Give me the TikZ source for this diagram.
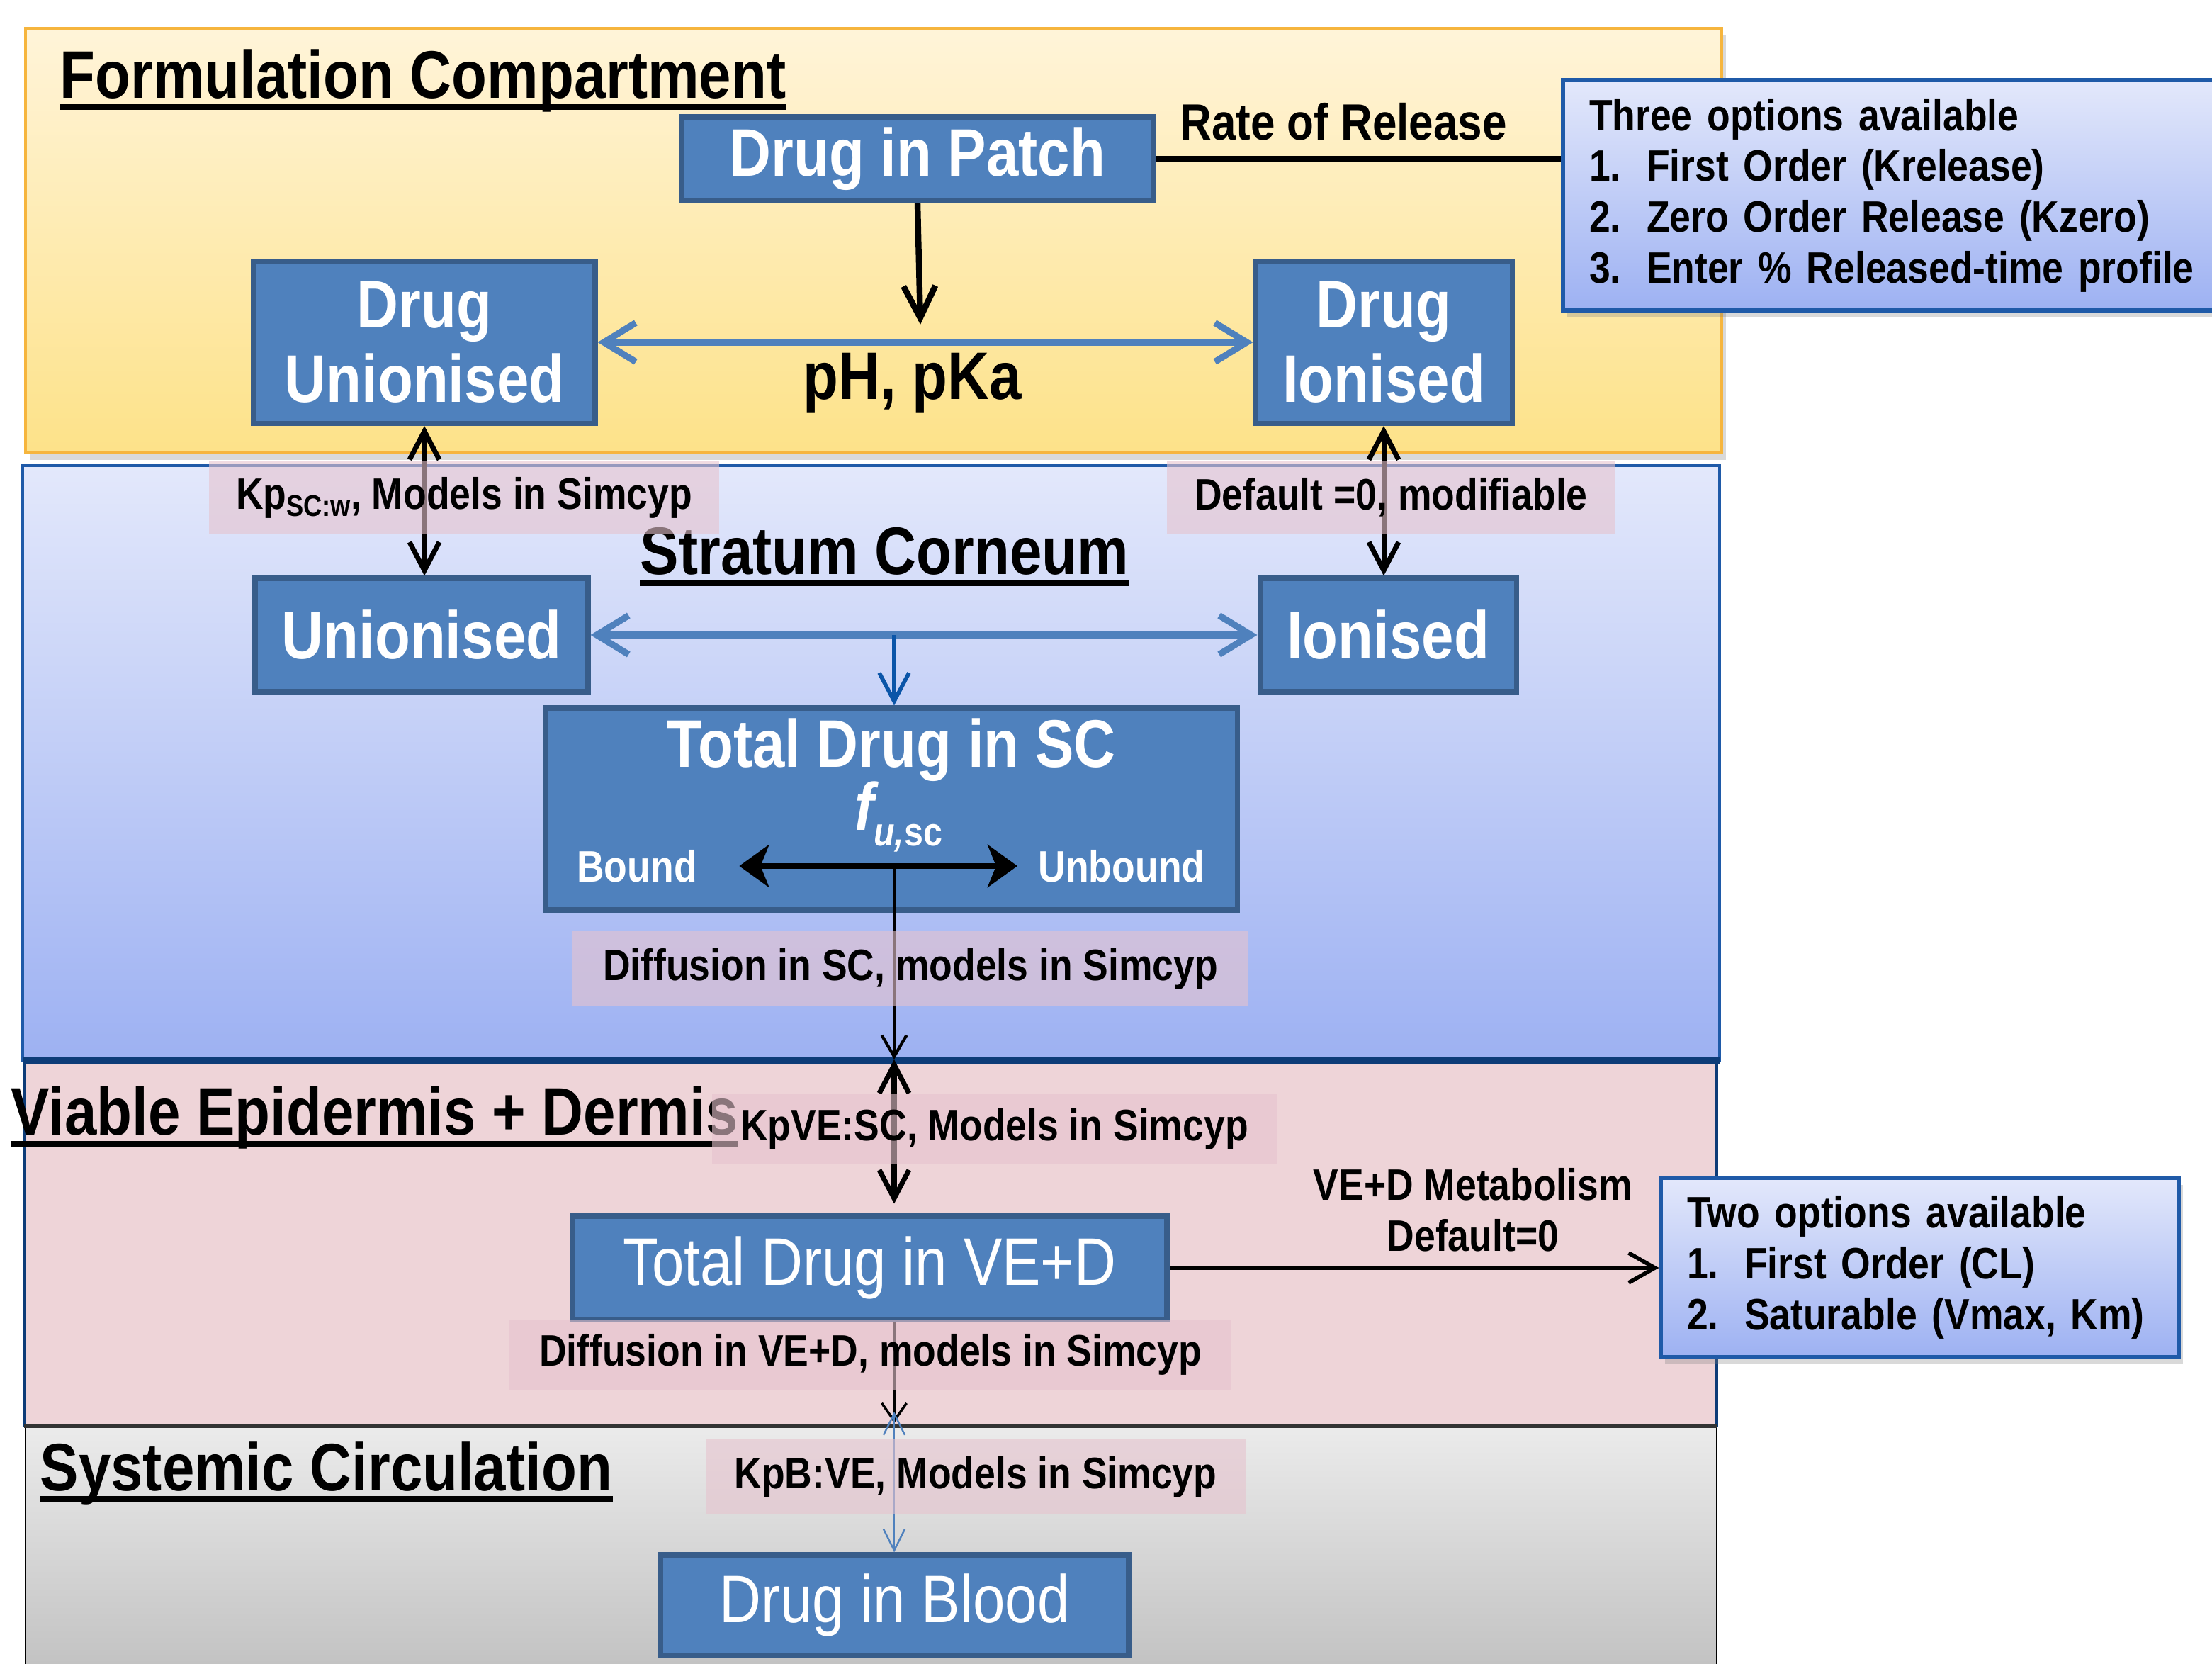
\documentclass[tikz,border=0pt]{standalone}
\usepackage{fontspec}
\setmainfont{Liberation Sans}[FakeStretch=0.86]
\usepackage{xcolor}
\usetikzlibrary{positioning}
\usetikzlibrary{arrows.meta}
\usetikzlibrary{shadows}

\definecolor{nodeblue}{HTML}{4F81BD}
\definecolor{nodeedge}{HTML}{385D8A}
\definecolor{fctop}{HTML}{FFF4D9}
\definecolor{fcbot}{HTML}{FDE289}
\definecolor{fcedge}{HTML}{F6B53D}
\definecolor{sctop}{HTML}{E3E8FB}
\definecolor{scbot}{HTML}{9DB1F2}
\definecolor{scedge}{HTML}{1F5AA8}
\definecolor{scdark}{HTML}{0D3C78}
\definecolor{vefill}{HTML}{EED4D8}
\definecolor{systop}{HTML}{EBEBEB}
\definecolor{sysbot}{HTML}{BEBEBE}
\definecolor{tagpink}{HTML}{E6C3CE}
\definecolor{arrowblue}{HTML}{0B55A8}

\begin{document}
\begin{tikzpicture}[
  box/.style={draw=nodeedge, line width=2pt, fill=nodeblue, text=white, align=center, inner sep=0pt, font=\fontsize{27}{30}\selectfont\bfseries},
  thinbox/.style={box, font=\fontsize{27}{30}\selectfont},
  heading/.style={anchor=base west, inner sep=0pt, font=\fontsize{27}{30}\selectfont\bfseries},
  note/.style={inner sep=0pt, font=\fontsize{17.7}{20.4}\selectfont\bfseries},
  tag/.style={note, fill=tagpink, fill opacity=0.6, text opacity=1},
  optbox/.style={note, draw=scedge, line width=1.5pt, top color=sctop, bottom color=scbot, drop shadow={shadow xshift=0.06cm, shadow yshift=-0.1cm, opacity=0.3}, align=left, inner xsep=0.37cm},
  blueline/.style={{Straight Barb[length=0.45cm,width=0.55cm]}-{Straight Barb[length=0.45cm,width=0.55cm]}, nodeblue, line width=2.6pt},
  arrow/.style={-{Straight Barb[length=0.45cm,width=0.45cm]}, line width=2.4pt},
  dblarrow/.style={{Straight Barb[length=0.4cm,width=0.42cm]}-{Straight Barb[length=0.4cm,width=0.42cm]}, line width=2pt}
]
\useasboundingbox (0,0) rectangle (31.22,-23.48);
\clip (0,0) rectangle (31.22,-23.48);

\path[draw=black, line width=0.8pt, top color=systop, bottom color=sysbot] (0.36,-20.12) rectangle (24.23,-23.9);
\path[draw=scdark, line width=1pt, fill=vefill] (0.34,-14.97) rectangle (24.23,-20.12);
\draw[black!80, line width=1.5pt] (0.34,-20.12) -- (24.23,-20.12);
\path[draw=scedge, line width=1pt, top color=sctop, bottom color=scbot] (0.32,-6.57) rectangle (24.27,-14.97);
\draw[scdark, line width=2.8pt] (0.32,-14.97) -- (24.27,-14.97);
\path[draw=fcedge, line width=1.2pt, top color=fctop, bottom color=fcbot, drop shadow={shadow xshift=0.06cm, shadow yshift=-0.1cm, opacity=0.3}] (0.36,-0.40) rectangle (24.30,-6.39);

\node[heading] (fctitle) at (0.84,-1.39) {Formulation Compartment};
\node[heading] (sctitle) at (9.03,-8.11) {Stratum Corneum};
\node[heading] (vetitle) at (0.15,-16.02) {Viable Epidermis + Dermis};
\node[heading] (systitle) at (0.56,-21.03) {Systemic Circulation};
\foreach \t in {fctitle, sctitle, vetitle, systitle}
  \draw[line width=2.3pt] ([yshift=-0.12cm]\t.base west) -- ([yshift=-0.12cm]\t.base east);

\node[box, minimum width=6.65cm, minimum height=1.18cm] (patch) at (12.95,-2.24) {Drug in Patch};
\node[box, minimum width=4.82cm, minimum height=2.29cm] (dunion) at (5.99,-4.83) {Drug\\Unionised};
\node[box, minimum width=3.62cm, minimum height=2.29cm] (dion) at (19.53,-4.83) {Drug\\Ionised};
\node[box, minimum width=4.70cm, minimum height=1.60cm] (union) at (5.95,-8.96) {Unionised};
\node[box, minimum width=3.62cm, minimum height=1.60cm] (ion) at (19.59,-8.96) {Ionised};
\node[box, minimum width=9.76cm, minimum height=2.85cm] (sctot) at (12.58,-11.415) {};
\node[thinbox, minimum width=8.39cm, minimum height=1.46cm] (vd) at (12.275,-17.89) {Total Drug in VE+D};
\node[thinbox, minimum width=6.61cm, minimum height=1.42cm] (blood) at (12.625,-22.65) {Drug in Blood};

\node[box, draw=none, fill=none, anchor=base] (sclabel) at (12.58,-10.83) {Total Drug in SC};
\node[box, draw=none, fill=none, anchor=base] (fu) at (12.68,-11.72) {\itshape f\raisebox{-0.22cm}{\fontsize{16}{16}\selectfont u,\upshape sc}};
\node[note, text=white] (bound) at (8.99,-12.22) {Bound};
\node[note, text=white] (unbound) at (15.83,-12.22) {Unbound};

\node[optbox, text width=8.6cm, minimum height=3.25cm] (opt1) at (26.73,-2.755) {Three options available\\
\makebox[0.81cm][l]{1.}First Order (Krelease)\\
\makebox[0.81cm][l]{2.}Zero Order Release (Kzero)\\
\makebox[0.81cm][l]{3.}Enter \% Released-time profile};
\node[optbox, text width=6.57cm, minimum height=2.53cm] (opt2) at (27.095,-17.885) {Two options available\\
\makebox[0.81cm][l]{1.}First Order (CL)\\
\makebox[0.81cm][l]{2.}Saturable (Vmax, Km)};

\node[box, draw=none, fill=none, text=black, anchor=base] (ph) at (12.88,-5.64) {pH, pKa};
\node[note, anchor=base, font=\fontsize{20.5}{24}\selectfont\bfseries] (release) at (18.96,-1.98) {Rate of Release};

\coordinate (phtip) at (12.99,-4.58);
\coordinate (scmid) at (12.62,-8.96);
\coordinate (scfork) at (12.62,-12.20);
\coordinate (scbase) at (12.62,-14.95);
\coordinate (vebase) at (12.62,-20.08);
\coordinate (sysin) at (12.62,-19.92);

\draw[line width=2.4pt] (patch.east) -- (patch.east -| opt1.west);
\draw[arrow] (patch.south) -- (phtip);
\draw[blueline] (dunion) -- (dion);
\draw[blueline] (union) -- (ion);
\draw[-{Straight Barb[length=0.4cm,width=0.42cm]}, arrowblue, line width=1.6pt] (scmid) -- (scmid |- sctot.north);
\draw[dblarrow] (dunion.south) -- (dunion.south |- union.north);
\draw[dblarrow] (dion.south) -- (dion.south |- ion.north);
\draw[{Stealth[length=0.42cm,width=0.6cm,inset=0.12cm]}-{Stealth[length=0.42cm,width=0.6cm,inset=0.12cm]}, line width=2.4pt] ([xshift=0.59cm]bound.east) -- ([xshift=-0.29cm]unbound.west);
\draw[-{Straight Barb[length=0.3cm,width=0.35cm]}, line width=1.2pt] (scfork) -- (scbase);
\draw[dblarrow, shorten >=0.14cm] (scbase) -- (scbase |- vd.north);
\draw[-{Straight Barb[length=0.25cm,width=0.35cm]}, line width=1pt] (vd.south -| vebase) -- (vebase);
\draw[{Straight Barb[length=0.3cm,width=0.3cm]}-{Straight Barb[length=0.3cm,width=0.3cm]}, nodeblue, line width=0.7pt] (sysin) -- (sysin |- blood.north);
\draw[-{Straight Barb[length=0.37cm,width=0.42cm]}, line width=1.6pt] (vd.east) -- (vd.east -| opt2.west)
  node[note, pos=0.62, above=0.2cm, align=center] (metab) {VE+D Metabolism\\Default=0};

\node[tag, minimum width=7.2cm, minimum height=1.02cm] (kpsc) at (6.55,-7.02) {Kp\raisebox{-0.1cm}{\fontsize{12}{12}\selectfont SC:w}, Models in Simcyp};
\node[tag, minimum width=6.33cm, minimum height=1.02cm] (dflt) at (19.635,-7.02) {Default =0, modifiable};
\node[tag, minimum width=9.54cm, minimum height=1.06cm] (difsc) at (12.85,-13.67) {Diffusion in SC, models in Simcyp};
\node[tag, minimum width=7.97cm, minimum height=1.0cm] (kpve) at (14.035,-15.93) {KpVE:SC, Models in Simcyp};
\node[tag, minimum width=10.19cm, minimum height=0.99cm] (difve) at (12.285,-19.115) {Diffusion in VE+D, models in Simcyp};
\node[tag, minimum width=7.62cm, minimum height=1.06cm] (kpb) at (13.77,-20.84) {KpB:VE, Models in Simcyp};
\end{tikzpicture}
\end{document}
